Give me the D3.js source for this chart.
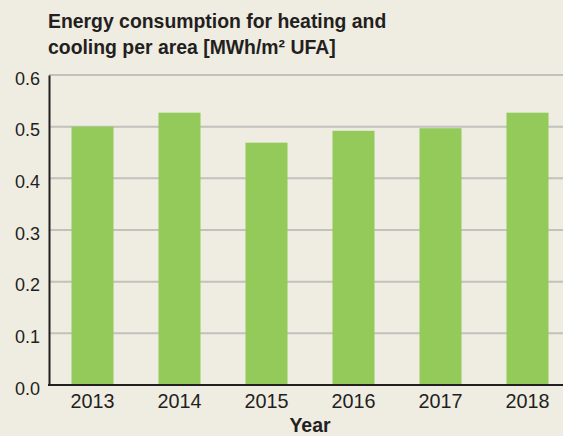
<!DOCTYPE html>
<html>
<head>
<meta charset="utf-8">
<script src="https://cdn.jsdelivr.net/npm/d3@7"></script>
<style>
  html, body { margin: 0; padding: 0; background: #efece1; }
  svg { display: block; }
</style>
</head>
<body>
<div id="chart"></div>
<script>
// data
const years = ["2013", "2014", "2015", "2016", "2017", "2018"];
const energy = [0.500, 0.527, 0.469, 0.492, 0.497, 0.527];
const yTicks = [0.0, 0.1, 0.2, 0.3, 0.4, 0.5, 0.6];
const titleLines = ["Energy consumption for heating and", "cooling per area [MWh/m\u00b2 UFA]"];

const width = 563, height = 436;
const margin = {top: 75, right: -8, bottom: 51, left: 49};

const svg = d3.select("#chart").append("svg")
    .attr("width", width)
    .attr("height", height)
    .style("font-family", "'Liberation Sans', Arial, sans-serif");

svg.append("rect")
    .attr("width", width)
    .attr("height", height)
    .attr("fill", "#efece1");

const x = d3.scaleBand()
    .domain(years)
    .range([margin.left, width - margin.right])
    .paddingInner(0.517)
    .paddingOuter(0.2585);

const y = d3.scaleLinear()
    .domain([0, 0.6])
    .range([height - margin.bottom, margin.top]);

// title
svg.append("g")
  .selectAll("text")
  .data(titleLines)
  .join("text")
    .attr("x", 48)
    .attr("y", (d, i) => 28 + i * 26)
    .attr("font-size", "19.4px")
    .attr("font-weight", "bold")
    .attr("fill", "#231f20")
    .text(d => d);

// gridlines
svg.append("g")
  .selectAll("line")
  .data(yTicks.filter(d => d > 0))
  .join("line")
    .attr("x1", margin.left)
    .attr("x2", width)
    .attr("y1", d => y(d))
    .attr("y2", d => y(d))
    .attr("stroke", "#c2c1bd")
    .attr("stroke-width", 2);

// bars
svg.append("g")
  .selectAll("rect")
  .data(years)
  .join("rect")
    .attr("x", d => x(d))
    .attr("width", x.bandwidth())
    .attr("y", (d, i) => y(energy[i]))
    .attr("height", (d, i) => y(0) - y(energy[i]))
    .attr("fill", "#94ca5a");

// y axis
const yAxis = svg.append("g")
    .attr("transform", `translate(${margin.left},0)`)
    .call(d3.axisLeft(y).tickValues(yTicks).tickFormat(d3.format(".1f")).tickSize(0).tickPadding(9));
yAxis.select(".domain").attr("stroke", "#231f20").attr("stroke-width", 2);
yAxis.selectAll("text")
    .attr("font-size", "18px")
    .attr("fill", "#231f20")
    .attr("font-family", "'Liberation Sans', Arial, sans-serif")
    .attr("dy", "0.5em");

// x axis
const xAxis = svg.append("g")
    .attr("transform", `translate(0,${y(0)})`)
    .call(d3.axisBottom(x).tickSize(0).tickPadding(9));
xAxis.select(".domain").remove();
xAxis.append("line")
    .attr("x1", margin.left - 1)
    .attr("x2", width)
    .attr("stroke", "#231f20")
    .attr("stroke-width", 2);
xAxis.selectAll("text")
    .attr("font-size", "19.8px")
    .attr("fill", "#231f20")
    .attr("font-family", "'Liberation Sans', Arial, sans-serif");

svg.append("text")
    .attr("x", (x.range()[0] + x.range()[1]) / 2)
    .attr("y", 432)
    .attr("text-anchor", "middle")
    .attr("font-size", "19.5px")
    .attr("font-weight", "bold")
    .attr("fill", "#231f20")
    .text("Year");
</script>
</body>
</html>
